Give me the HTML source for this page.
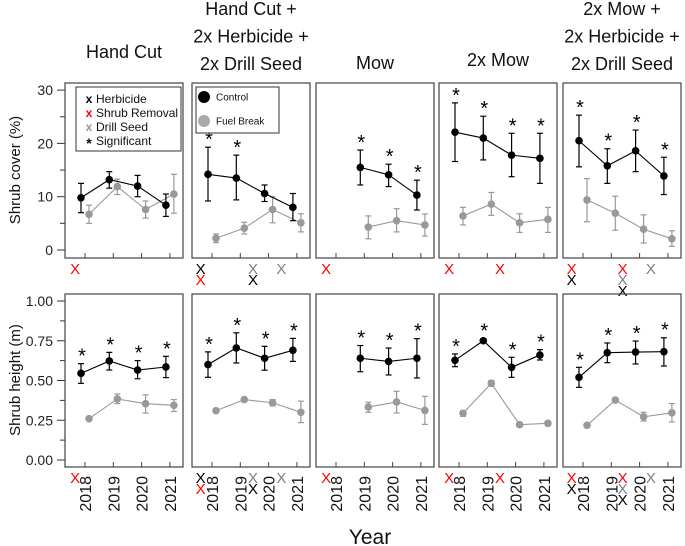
<!DOCTYPE html>
<html><head><meta charset="utf-8"><style>
body{margin:0;background:#fff}
svg{display:block;font-family:"Liberation Sans",sans-serif}
</style></head><body>
<svg id="chart" width="685" height="546" viewBox="0 0 685 546" xmlns="http://www.w3.org/2000/svg">
<g id="g"></g>
</svg>
<script>
const years = ["2018","2019","2020","2021"];
const panelTitles = [["Hand Cut"],["Hand Cut +","2x Herbicide +","2x Drill Seed"],["Mow"],["2x Mow"],["2x Mow +","2x Herbicide +","2x Drill Seed"]];
const coverTicks = [0,10,20,30];
const heightTicks = ["0.00","0.25","0.50","0.75","1.00"];
// cover: [value, lo, hi] per year (null = missing)
const coverControl = [
 [[9.8,7,12.5],[13.2,11.6,14.7],[12,10,14],[8.4,6.3,10.5]],
 [[14.2,9.2,19.3],[13.5,9.4,17.8],[10.6,9.1,12.2],[8,5.5,10.6]],
 [null,[15.5,12.2,18.75],[14.1,11.9,16.1],[10.3,7.5,13.1]],
 [[22.1,16.6,27.6],[21,16.9,25.1],[17.8,13.75,21.9],[17.2,12.5,21.9]],
 [[20.5,15.6,25.3],[15.8,12.5,19],[18.6,14.7,22.5],[13.9,10.4,17.4]]];
const coverFuel = [
 [[6.7,5,8.4],[11.9,10.4,13.3],[7.6,6,9.2],[10.5,6.9,14.2]],
 [[2.2,1.4,3],[4.1,3,5.2],[7.6,5.1,10],[5.1,3.4,6.8]],
 [null,[4.3,2.1,6.4],[5.5,3.4,7.75],[4.7,2.6,6.75]],
 [[6.4,4.7,8],[8.6,6.5,10.8],[5.1,3.3,6.8],[5.75,3.3,8]],
 [[9.4,5.3,13.4],[6.9,3.7,10.1],[3.9,1.3,6.6],[2.1,0.7,3.6]]];
const coverSig = [[0,0,0,0],[1,1,0,0],[0,1,1,1],[1,1,1,1],[1,1,1,1]];
const heightControl = [
 [[0.545,0.482,0.606],[0.623,0.566,0.677],[0.566,0.511,0.625],[0.585,0.518,0.652]],
 [[0.60,0.52,0.68],[0.705,0.61,0.80],[0.64,0.565,0.715],[0.69,0.62,0.765]],
 [null,[0.64,0.555,0.72],[0.62,0.535,0.704],[0.64,0.516,0.763]],
 [[0.627,0.587,0.667],[0.75,0.738,0.763],[0.583,0.52,0.646],[0.66,0.629,0.694]],
 [[0.52,0.457,0.583],[0.675,0.612,0.736],[0.679,0.604,0.748],[0.681,0.591,0.769]]];
const heightFuel = [
 [[0.26,0.25,0.27],[0.384,0.355,0.415],[0.354,0.295,0.41],[0.344,0.305,0.38]],
 [[0.31,0.30,0.32],[0.38,0.37,0.39],[0.36,0.34,0.38],[0.30,0.235,0.37]],
 [null,[0.333,0.30,0.363],[0.365,0.296,0.432],[0.312,0.224,0.40]],
 [[0.294,0.275,0.31],[0.482,0.465,0.50],[0.222,0.21,0.235],[0.231,0.215,0.245]],
 [[0.218,0.21,0.226],[0.377,0.365,0.39],[0.272,0.245,0.30],[0.297,0.24,0.355]]];
const heightSig = [[1,1,1,1],[1,1,1,1],[0,1,1,1],[1,1,1,1],[1,1,1,1]];
// treatments: [year position (index), color, stack level]
const treatments = [
 [[-0.35,"red",0]],
 [[-0.4,"black",0],[-0.4,"red",1],[1.45,"gray",0],[1.45,"black",1],[2.45,"gray",0]],
 [[-0.35,"red",0]],
 [[-0.35,"red",0],[1.45,"red",0]],
 [[-0.4,"red",0],[-0.4,"black",1],[1.4,"red",0],[1.4,"gray",1],[1.4,"black",2],[2.4,"gray",0]]];

const NS="http://www.w3.org/2000/svg";
const g=document.getElementById('g');
function el(t,a,p){const e=document.createElementNS(NS,t);for(const k in a)e.setAttribute(k,a[k]);(p||g).appendChild(e);return e;}
const panelLeft=[65,192,316,439,563], panelW=118;
const rows=[{top:83,bot:258,y0:250,k:5.33,ctrl:coverControl,fuel:coverFuel,sig:coverSig,ticks:coverTicks,minor:[5,15,25],tv:v=>+v},
            {top:294,bot:467,y0:460,k:159,ctrl:heightControl,fuel:heightFuel,sig:heightSig,ticks:heightTicks,minor:[0.125,0.375,0.625,0.875],tv:v=>parseFloat(v)}];
function xs(p,i){return panelLeft[p]+20+i*28.3;}

rows.forEach((r,ri)=>{
  const ys=v=>r.y0-v*r.k;
  r.ticks.forEach(t=>{const v=r.tv(t),y=ys(v);
    const l=el('line',{x1:57,x2:65,y1:y,y2:y,stroke:'#333','stroke-width':1});
    
    const tx=el('text',{x:53,y:y+5,'text-anchor':'end','font-size':14,fill:'#222'});
    
    tx.textContent=t;});
  r.minor.forEach(v=>{const y=ys(v);el('line',{x1:60,x2:65,y1:y,y2:y,stroke:'#333'});});
  for(let p=0;p<5;p++){
    const box=el('rect',{x:panelLeft[p],y:r.top,width:panelW,height:r.bot-r.top,fill:'none',stroke:'#444','stroke-width':1.2});
    
    for(let i=0;i<4;i++){const x=xs(p,i);el('line',{x1:x,x2:x,y1:r.bot-5,y2:r.bot,stroke:'#444'});}
    [[r.fuel[p],'#999',4],[r.ctrl[p],'#000',-4]].forEach(([ser,col,off],si)=>{
      const pts=[];ser.forEach((d,i)=>{if(d)pts.push([xs(p,i)+off,ys(d[0])]);});
      const pl=el('polyline',{points:pts.map(q=>q.join(',')).join(' '),fill:'none',stroke:col,'stroke-width':1.1});
      
      ser.forEach((d,i)=>{if(!d)return;const x=xs(p,i)+off;
        el('line',{x1:x,x2:x,y1:ys(d[1]),y2:ys(d[2]),stroke:col,'stroke-width':1.2});
        el('line',{x1:x-3,x2:x+3,y1:ys(d[1]),y2:ys(d[1]),stroke:col,'stroke-width':1.2});
        el('line',{x1:x-3,x2:x+3,y1:ys(d[2]),y2:ys(d[2]),stroke:col,'stroke-width':1.2});
        const c=el('circle',{cx:x,cy:ys(d[0]),r:3.8,fill:col});
        
        if(si&&r.sig[p][i]){const s=el('text',{x:x+1,y:ys(d[2])-1,'text-anchor':'middle','font-size':20,fill:'#000'});
          s.textContent='*';}
      });
    });
    treatments[p].forEach(t=>{const tx=el('text',{x:xs(p,t[0]),y:r.bot+16+t[2]*11,'text-anchor':'middle','font-size':15,fill:t[1]});
      tx.textContent='X';});
    if(ri===1){years.forEach((yv,i)=>{const x=xs(p,i)+6;
      const tx=el('text',{x:x,y:476,transform:`rotate(-90 ${x} 476)`,'text-anchor':'end','font-size':16,fill:'#111'});
      tx.textContent=yv;});}
  }
});
panelTitles.forEach((lines,p)=>{const cx=panelLeft[p]+panelW/2;
  const n=lines.length;lines.forEach((s,j)=>{const y=n===1?(p===3?66:(p===0?58:69)):15+j*27.5;
    const tx=el('text',{x:cx,y:y,'text-anchor':'middle','font-size':18,fill:'#111'});
    tx.textContent=s;});});
[["Shrub cover (%)",170],["Shrub height (m)",380]].forEach(([s,y])=>{
  const tx=el('text',{x:20,y:y,transform:`rotate(-90 20 ${y})`,'text-anchor':'middle','font-size':15,fill:'#111'});
  tx.textContent=s;});
const xt=el('text',{x:370,y:544,'text-anchor':'middle','font-size':21,fill:'#111'});
xt.textContent='Year';
const lg=el('g',{});
el('rect',{x:76,y:87,width:105,height:64,fill:'#fff',stroke:'#333'},lg);
[["x","#000","Herbicide"],["x","red","Shrub Removal"],["x","#999","Drill Seed"],["*","#000","Significant"]].forEach((e,j)=>{
  const y=103+j*14;
  const m=el('text',{x:89,y:y+(e[0]=='*'?3:0),'text-anchor':'middle','font-size':e[0]=='*'?14:12,'font-weight':'bold',fill:e[1]},lg);m.textContent=e[0];
  const t=el('text',{x:96,y:y,'font-size':12,fill:'#111',textLength:e[2]=="Shrub Removal"?82:null});
  lg.appendChild(t);
  if(e[2]!="Shrub Removal")t.removeAttribute('textLength');
  t.textContent=e[2];});
const lg2=el('g',{});
el('rect',{x:196,y:87,width:83,height:46,fill:'#fff',stroke:'#333'},lg2);
[["#000","Control",97],["#aaa","Fuel Break",121]].forEach(e=>{
  el('circle',{cx:204,cy:e[2],r:6,fill:e[0]},lg2);
  const t=el('text',{x:216,y:e[2]+3.5,'font-size':10,fill:'#111'},lg2);
  t.textContent=e[1];});
</script>
</body></html>
